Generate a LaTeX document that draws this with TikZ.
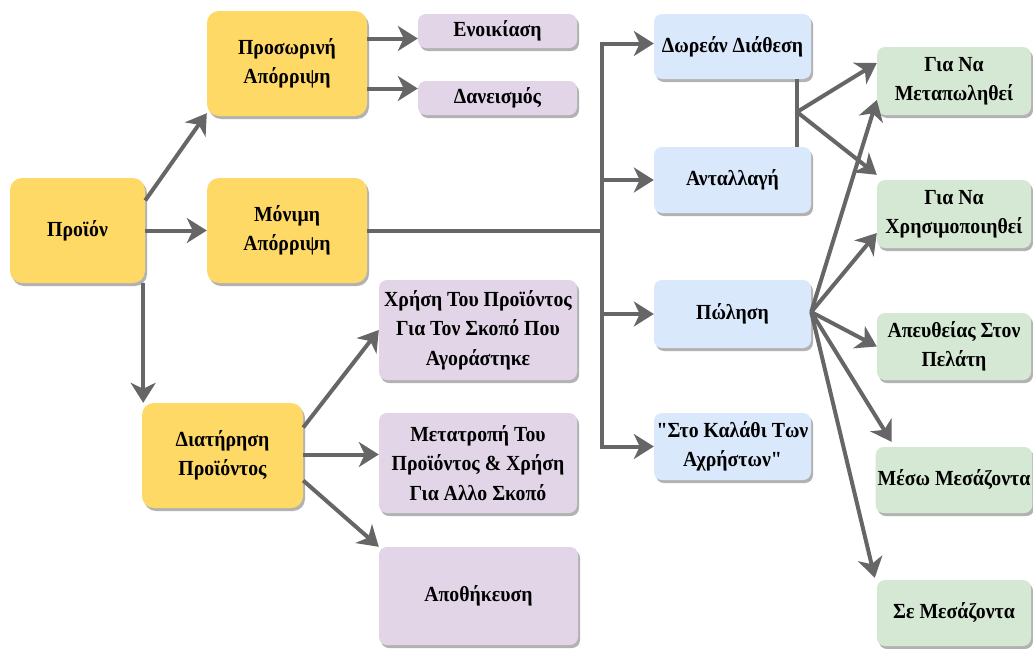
\documentclass[tikz,border=0pt]{standalone}
\usepackage{fontspec}
\newfontfamily\diagfont{Liberation Serif}[FakeStretch=0.92]
\usetikzlibrary{arrows.meta,shadows}
\definecolor{ylw}{HTML}{FFD966}
\definecolor{lil}{HTML}{E1D5E7}
\definecolor{sky}{HTML}{DAE8FC}
\definecolor{mint}{HTML}{D5E8D4}
\definecolor{wire}{HTML}{666666}
\tikzset{
  box/.style={rectangle, rounded corners=8pt, inner sep=2pt, align=center,
    font=\diagfont\bfseries\fontsize{21.5}{29.5}\selectfont,
    drop shadow={shadow xshift=2pt, shadow yshift=-3pt, opacity=0.3, fill=black}},
  yel/.style={box, fill=ylw, rounded corners=12pt},
  pur/.style={box, fill=lil},
  blu/.style={box, fill=sky, minimum width=157pt},
  grn/.style={box, fill=mint, minimum width=154pt},
  wireline/.style={draw=wire, line width=4pt},
  conn/.style={wireline, -{Stealth[length=20pt 0 0, width=25pt 0 0, inset=6pt]}},
}
\begin{document}
\begin{tikzpicture}[x=1pt, y=-1pt]
\useasboundingbox (0,0) rectangle (1033,648);
\clip (0,0) rectangle (1033,648);

% left branch
\node[yel, minimum width=135pt, minimum height=105pt] (proion) at (77.5,230.5) {Προϊόν};
\node[yel, minimum width=160pt, minimum height=105pt] (pros) at (287,63.5) {Προσωρινή\\Απόρριψη};
\node[yel, minimum width=160pt, minimum height=105pt] (monimi) at (287,230.5) {Μόνιμη\\Απόρριψη};
\node[yel, minimum width=161pt, minimum height=105pt] (diat) at (222.5,455.5) {Διατήρηση\\Προϊόντος};

\node[pur, minimum width=159pt, minimum height=34pt] (enoik) at (497.5,31) {Ενοικίαση};
\node[pur, minimum width=159pt, minimum height=34pt] (daneis) at (497.5,98) {Δανεισμός};
\node[pur, minimum width=198pt, minimum height=100pt] (xrisi) at (478,330) {Χρήση Του Προϊόντος\\Για Τον Σκοπό Που\\Αγοράστηκε};
\node[pur, minimum width=198pt, minimum height=100pt] (metatr) at (478,463) {Μετατροπή Του\\Προϊόντος \& Χρήση\\Για Αλλο Σκοπό};
\node[pur, minimum width=199pt, minimum height=98pt] (apoth) at (478.5,596) {Αποθήκευση};

% disposal ways
\node[blu, minimum height=65pt] (dorean) at (732.5,46.5) {Δωρεάν Διάθεση};
\node[blu, minimum height=66pt] (antal) at (732.5,180) {Ανταλλαγή};
\node[blu, minimum height=68pt] (poli) at (732.5,314) {Πώληση};
\node[blu, minimum height=67pt] (kalathi) at (732.5,446.5) {"Στο Καλάθι Των\\Αχρήστων"};

% purposes / channels
\node[grn, minimum height=68pt] (metap) at (954,81) {Για Να\\Μεταπωληθεί};
\node[grn, minimum height=68pt] (xrisim) at (954,214) {Για Να\\Χρησιμοποιηθεί};
\node[grn, minimum height=67pt] (apeuth) at (954,346.5) {Απευθείας Στον\\Πελάτη};
\node[grn, minimum height=66pt] (meso) at (954,480) {Μέσω Μεσάζοντα};
\node[grn, minimum height=66pt] (se) at (954,613) {Σε Μεσάζοντα};

% connectors from the product
\draw[conn] ([yshift=30pt]proion.east) -- ([yshift=3pt]pros.south west);
\draw[conn] (proion.east) -- (monimi.west);
\draw[conn] ([xshift=-2pt]proion.south east) -- ([xshift=-2pt]proion.south east |- diat.north);

% temporary disposal
\coordinate (p1) at ([yshift=25pt]pros.east);
\coordinate (p2) at ([yshift=-25pt]pros.east);
\draw[conn] (p1) -- (p1 -| enoik.west);
\draw[conn] (p2) -- (p2 -| daneis.west);

% permanent disposal trunk
\coordinate (tr) at (602,230.5);
\draw[conn] (monimi.east) -- (tr) |- ([yshift=3pt]dorean.west);
\draw[conn] (tr) |- (kalathi.west);
\draw[conn] (tr |- antal.west) -- (antal.west);
\draw[conn] (tr |- poli.west) -- (poli.west);

% keeping the product
\draw[conn] ([yshift=28pt]diat.east) -- (xrisi.west);
\draw[conn] ([yshift=1pt]diat.east) -- ([yshift=1pt]diat.east -| metatr.west);
\draw[conn] ([yshift=-25pt]diat.east) -- (apoth.north west);

% donation / exchange branch
\coordinate (dj) at (797,112);
\draw[wireline] (dorean.south -| dj) -- (antal.north -| dj);
\draw[conn] (dj) -- ([yshift=18pt]metap.west);
\draw[conn] (dj) -- ([yshift=5pt]xrisim.north west);

% sale branch
\coordinate (pj) at ([yshift=2pt]poli.east);
\draw[conn] (pj) -- ([yshift=-19pt]metap.west);
\draw[conn] (pj) -- ([yshift=-19pt]xrisim.west);
\draw[conn] (pj) -- (apeuth.west);
\draw[conn] (pj) -- ([xshift=16pt,yshift=5pt]meso.north west);
\draw[conn] (pj) -- ([xshift=-2pt,yshift=2pt]se.north west);
\end{tikzpicture}
\end{document}
